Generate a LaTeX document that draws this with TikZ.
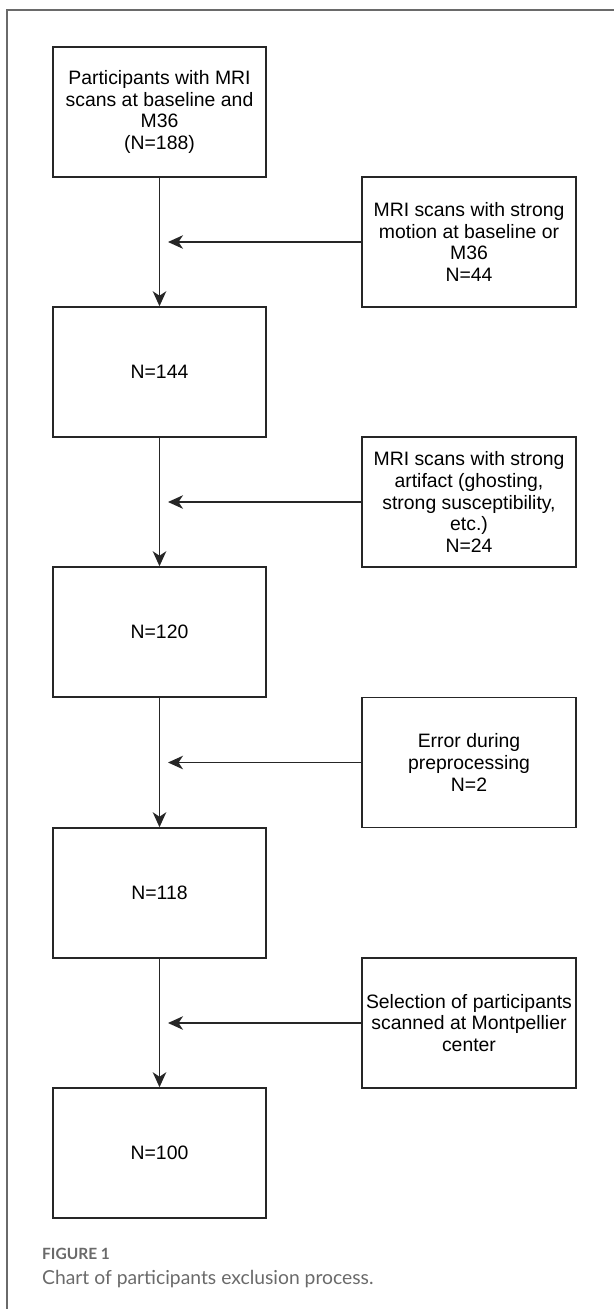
\documentclass[tikz,border=0pt]{standalone}
\usepackage{fontspec}
\setmainfont{Liberation Sans}
\newfontfamily\capfont{Lato}
\usetikzlibrary{arrows.meta,calc}
\definecolor{edgec}{HTML}{262626}
\definecolor{framec}{HTML}{6A6A6A}
\definecolor{capc}{HTML}{6A6A6A}
\begin{document}
\begin{tikzpicture}[x=1pt,y=-1pt,
  mainbox/.style={draw=edgec,line width=1.5pt,minimum width=213pt,minimum height=130pt,inner sep=0pt,align=center,font=\fontsize{19.4}{21.7}\selectfont,text=black},
  sidebox/.style={draw=edgec,line width=1.5pt,minimum width=214pt,minimum height=130pt,inner sep=0pt,align=center,font=\fontsize{19.4}{21.7}\selectfont,text=black},
  arr/.style={draw=edgec,line width=1.5pt,-{Stealth[length=15pt,width=13.5pt,inset=4.5pt]}}]
\useasboundingbox (0,0) rectangle (614,1309);
% frame
\draw[framec,line width=1.3pt] (7,1309) -- (7,10) -- (614,10);
% main boxes
\node[mainbox] (m1) at (159.5,112) {Participants with MRI\\scans at baseline and\\M36\\(N=188)};
\node[mainbox] (m2) at (159.5,372) {N=144};
\node[mainbox] (m3) at (159.5,632) {N=120};
\node[mainbox] (m4) at (159.5,893) {N=118};
\node[mainbox] (m5) at (159.5,1153) {N=100};
% side boxes
\node[sidebox] (s1) at (469,242) {MRI scans with strong\\motion at baseline or\\M36\\N=44};
\node[sidebox] (s2) at (469,502) {MRI scans with strong\\artifact (ghosting,\\strong susceptibility,\\etc.)\\N=24};
\node[sidebox] (s3) at (469,762.5) {Error during\\preprocessing\\N=2};
\node[sidebox] (s4) at (469,1023) {Selection of participants\\scanned at Montpellier\\center};
% target points
\coordinate (t1) at (168,242);
\coordinate (t2) at (168,502);
\coordinate (t3) at (168,762.5);
\coordinate (t4) at (168,1023);
% arrows
\draw[arr] (m1.south) -- (m2.north);
\draw[arr] (m2.south) -- (m3.north);
\draw[arr] (m3.south) -- (m4.north);
\draw[arr] (m4.south) -- (m5.north);
\draw[arr] (s1.west) -- (t1);
\draw[arr] (s2.west) -- (t2);
\draw[arr] (s3.west) -- (t3);
\draw[arr] (s4.west) -- (t4);
% caption
\node[anchor=west,inner sep=0pt,text=capc,font=\capfont\bfseries\fontsize{15.5}{17}\selectfont] (cap1) at (42,1254) {FIGURE 1};
\node[anchor=west,inner sep=0pt,text=capc,font=\capfont\fontsize{19.3}{22}\selectfont] (cap2) at (42,1279) {Chart of participants exclusion process.};
\end{tikzpicture}
\end{document}
